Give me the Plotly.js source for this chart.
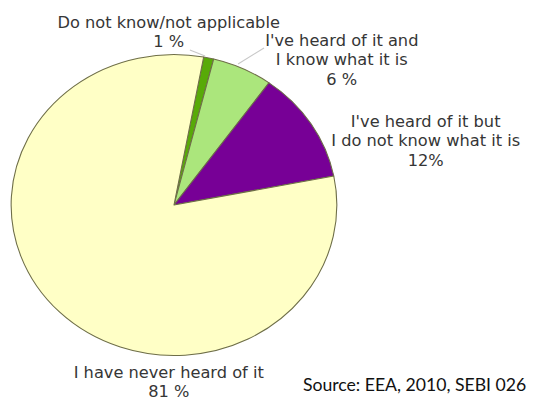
<!DOCTYPE html>
<html>
<head>
<meta charset="utf-8">
<script src="https://cdn.plot.ly/plotly-3.0.1.min.js"></script>
<style>
  html, body { margin: 0; padding: 0; background: #ffffff; overflow: hidden; }
  #chart { width: 500px; height: 404px; transform: scaleX(1.082); transform-origin: 0 0; }
</style>
</head>
<body>
<div id="chart"></div>
<script>
// Data
const categories = [
  "Do not know/not applicable",
  "I've heard of it and I know what it is",
  "I've heard of it but I do not know what it is",
  "I have never heard of it"
];
const shares = [1, 6, 12, 81];
const labelTexts = [
  "Do not know/not applicable<br>1 %",
  "I've heard of it and<br>I know what it is<br>6 %",
  "I've heard of it but<br>I do not know what it is<br>12%",
  "I have never heard of it<br>81 %"
];
const sourceText = "Source: EEA, 2010, SEBI 026";

// Styles
const sliceColors = ["#58aa08", "#abe67c", "#770096", "#ffffc6"];
const W = 500, H = 404;
const px = x => x / W;
const py = y => 1 - y / H;
const labelPos = [
  {x: 156, y: 33.5},
  {x: 315.5, y: 60.5},
  {x: 393.5, y: 141},
  {x: 155.5, y: 383}
];
const textFont = {family: "DejaVu Sans, Verdana, sans-serif", size: 15, color: "#363636"};

const trace = {
  type: "pie",
  labels: categories,
  values: shares,
  sort: false,
  direction: "clockwise",
  rotation: 10.5,
  textinfo: "none",
  hoverinfo: "none",
  marker: {colors: sliceColors, line: {color: "#6e6e48", width: 1}},
  domain: {x: [px(160.8 - 150.5), px(160.8 + 150.5)], y: [py(205 + 150.5), py(205 - 150.5)]}
};

const annotations = labelTexts.map((t, i) => ({
  text: t, xref: "paper", yref: "paper",
  x: px(labelPos[i].x), y: py(labelPos[i].y),
  xanchor: "center", yanchor: "middle", align: "center",
  showarrow: false, font: textFont
}));
annotations.push({
  text: sourceText, xref: "paper", yref: "paper",
  x: px(382.5), y: py(384), xanchor: "center", yanchor: "middle",
  showarrow: false, font: {family: "Lato, sans-serif", size: 16.3, color: "#111111"}
});

const leaderStyle = {color: "#c8c8c8", width: 1};
const shapes = [
  {type: "line", xref: "paper", yref: "paper", x0: px(175.5), y0: py(50), x1: px(189.5), y1: py(56), line: leaderStyle},
  {type: "line", xref: "paper", yref: "paper", x0: px(220), y0: py(64), x1: px(244), y1: py(48), line: leaderStyle}
];

const layout = {
  width: W, height: H,
  margin: {l: 0, r: 0, t: 0, b: 0},
  paper_bgcolor: "#ffffff",
  showlegend: false,
  hovermode: false,
  annotations: annotations,
  shapes: shapes
};

Plotly.newPlot("chart", [trace], layout, {displayModeBar: false, staticPlot: true});
</script>
</body>
</html>
